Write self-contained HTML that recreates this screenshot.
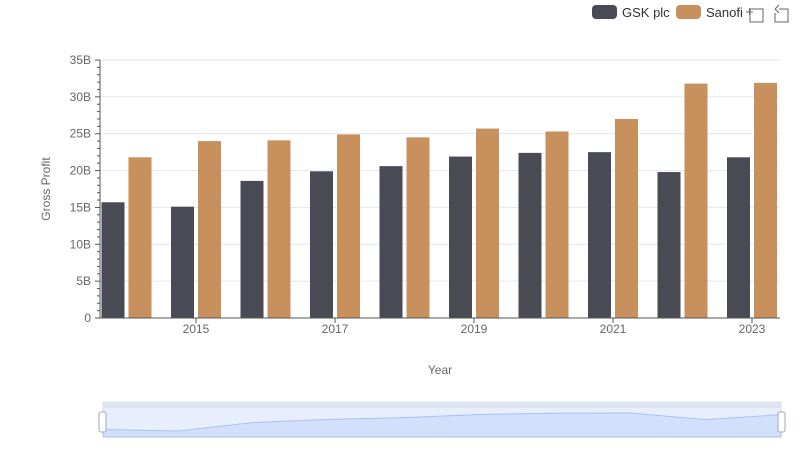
<!DOCTYPE html>
<html><head><meta charset="utf-8"><style>
body{margin:0;background:#fff;font-family:"Liberation Sans",sans-serif}
svg text{font-family:"Liberation Sans",sans-serif}
</style></head><body>
<svg id="c" width="800" height="461" xmlns="http://www.w3.org/2000/svg">
<g>
<g><rect x="592" y="5" width="25" height="14" rx="4" fill="#4a4a55"/><text x="622" y="17" font-size="13" fill="#333">GSK plc</text></g>
<g><rect x="676" y="5" width="25" height="14" rx="4" fill="#c8905c"/><text x="706" y="17" font-size="13" fill="#333">Sanofi</text></g>
<g stroke="#666" fill="none" stroke-width="1"><path d="M750 9 H763 V22 H750 Z M746 12 H753 M749.5 8 V15"/></g>
<g stroke="#666" fill="none" stroke-width="1"><path d="M779 9 H788 V22 H775 V13 M775 9 L779 5 M775 9 L779 13"/></g>
</g>
<g id="grid"></g><g id="bars"></g><g id="axes"></g>
<text x="50" y="189" font-size="12" fill="#666" text-anchor="middle" transform="rotate(-90 50 189)">Gross Profit</text>
<text x="440" y="374" font-size="12" fill="#666" text-anchor="middle">Year</text>
<g>
<rect x="103" y="402" width="678" height="35" fill="#e8eefc" stroke="#d2dbee"/>
<rect x="103" y="402" width="678" height="6" fill="#dde3f0"/>
<path id="sl" fill="#d2e0fb" stroke="#a9c1f0"/>
<rect x="99" y="412" width="7" height="20" rx="2" fill="#fff" stroke="#a0a8b8"/>
<rect x="778" y="412" width="7" height="20" rx="2" fill="#fff" stroke="#a0a8b8"/>
</g>
</svg>
<script>
const years=[2014,2015,2016,2017,2018,2019,2020,2021,2022,2023];
const gsk=[15.7,15.1,18.6,19.9,20.6,21.9,22.4,22.5,19.8,21.8];
const sanofi=[21.8,24.0,24.1,24.9,24.5,25.7,25.3,27.0,31.8,31.9];
const yTicks=[0,5,10,15,20,25,30,35];
const yTickLabels=['0','5B','10B','15B','20B','25B','30B','35B'];
const xTickYears=[2015,2017,2019,2021,2023];
const NS='http://www.w3.org/2000/svg';
const x=v=>196+(v-2015)*69.5;
const y=v=>318-v*(258/35);
function mk(t,a,p){const e=document.createElementNS(NS,t);for(const k in a)e.setAttribute(k,a[k]);p.appendChild(e);return e;}
const G=document.getElementById('grid'),B=document.getElementById('bars'),A=document.getElementById('axes');
yTicks.forEach((t,i)=>{
 if(t>0){const l=mk('line',{x1:100,x2:780,y1:y(t),y2:y(t),stroke:'#e0e6f1'},G);
 
 }
 const tx=mk('text',{x:91,y:y(t)+4,'font-size':12,fill:'#666','text-anchor':'end'},A);tx.textContent=yTickLabels[i];
 
 
});
for(let v=0;v<=35;v++){mk('line',{x1:v%5?97:95,x2:100,y1:y(v),y2:y(v),stroke:'#555'},A);}
mk('line',{x1:100,x2:100,y1:60,y2:318,stroke:'#555'},A);
mk('line',{x1:100,x2:780,y1:318,y2:318,stroke:'#555'},A);
xTickYears.forEach(t=>{mk('line',{x1:x(t),x2:x(t),y1:318,y2:323,stroke:'#555'},A);
 const tx=mk('text',{x:x(t),y:333,'font-size':12,fill:'#666','text-anchor':'middle'},A);tx.textContent=t;
 
 });
years.forEach((yr,i)=>{
 const a=mk('rect',{x:x(yr)-25,y:y(gsk[i]),width:23,height:318-y(gsk[i]),fill:'#4a4a55'},B);
 
 
 const b=mk('rect',{x:x(yr)+2,y:y(sanofi[i]),width:23,height:318-y(sanofi[i]),fill:'#c8905c'},B);
 
 
});
const mn=Math.min(...gsk),mx=Math.max(...gsk);
const sx=i=>103+i*678/(years.length-1), sy=v=>431-(v-mn)/(mx-mn)*18;
let d='M103 437 '+gsk.map((v,i)=>'L'+sx(i)+' '+sy(v)).join(' ')+' L781 437 Z';
document.getElementById('sl').setAttribute('d',d);
</script>
</body></html>
